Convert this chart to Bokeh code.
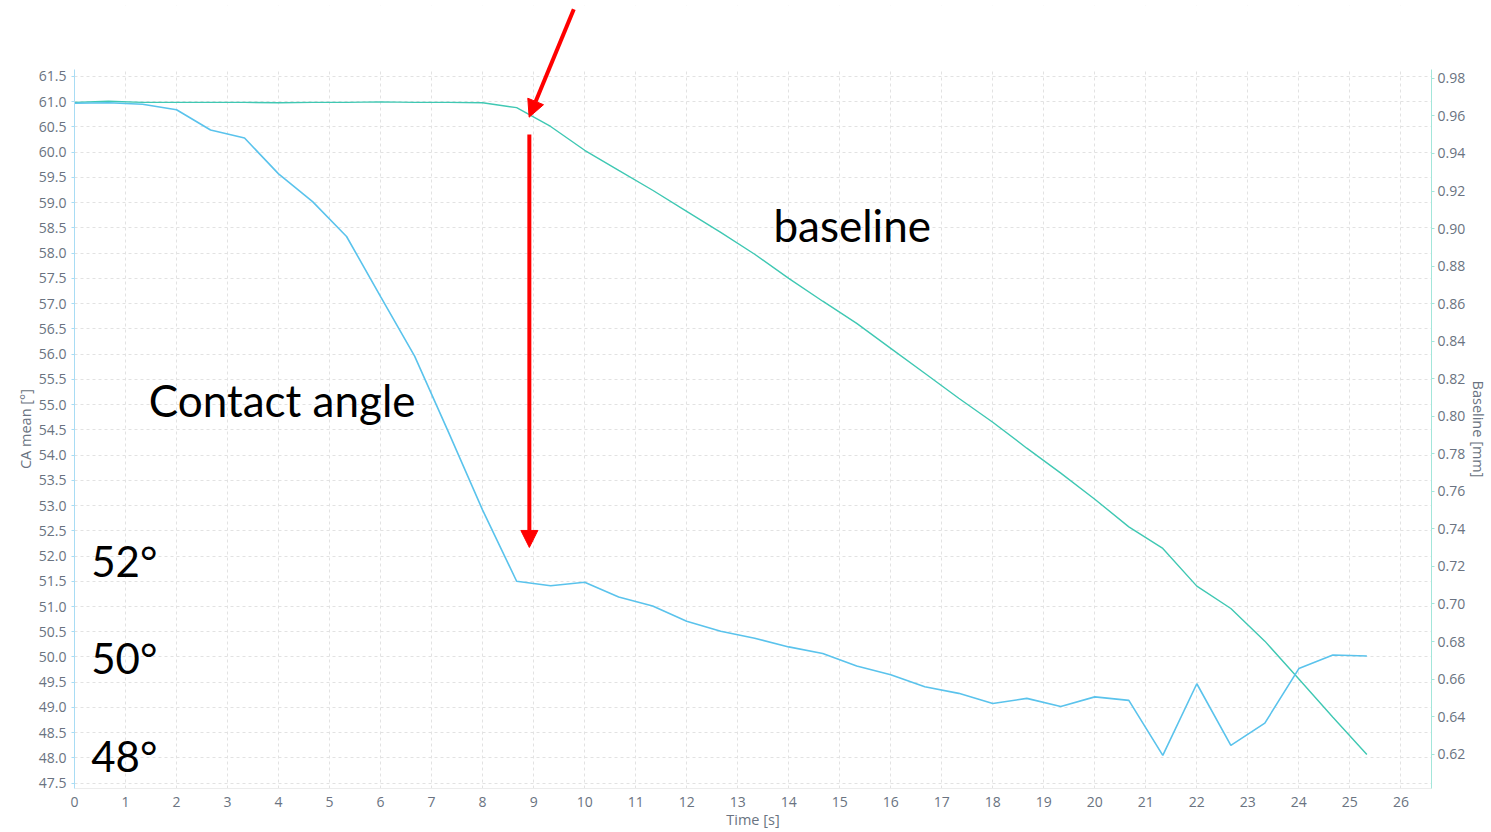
from bokeh.plotting import figure
from bokeh.models import (Range1d, LinearAxis, SingleIntervalTicker, NumeralTickFormatter,
                          Label, Arrow, NormalHead, BoxAnnotation)
from bokeh.embed import file_html
from bokeh.resources import INLINE

# ---- data ----
time_s = [0.0, 0.667, 1.333, 2.0, 2.667, 3.333, 4.0, 4.667, 5.333, 6.0, 6.667, 7.333,
          8.0, 8.667, 9.333, 10.0, 10.667, 11.333, 12.0, 12.667, 13.333, 14.0, 14.667,
          15.333, 16.0, 16.667, 17.333, 18.0, 18.667, 19.333, 20.0, 20.667, 21.333,
          22.0, 22.667, 23.333, 24.0, 24.667, 25.333]

ca_mean = [60.97, 60.98, 60.95, 60.84, 60.44, 60.28, 59.57, 59.02, 58.33, 57.14, 55.96, 54.45,
           52.91, 51.50, 51.41, 51.48, 51.19, 51.01, 50.71, 50.51, 50.37, 50.20, 50.07,
           49.82, 49.65, 49.41, 49.28, 49.08, 49.18, 49.02, 49.21, 49.14, 48.05,
           49.47, 48.25, 48.69, 49.77, 50.04, 50.02]

baseline_mm = [0.9672, 0.9678, 0.9672, 0.9672, 0.9672, 0.9672, 0.9670, 0.9672, 0.9672, 0.9675,
               0.9672, 0.9672, 0.9670, 0.9644, 0.9544, 0.9417, 0.9310, 0.9204, 0.9092, 0.8980,
               0.8863, 0.8735, 0.8613, 0.8495, 0.8362, 0.8229, 0.8096, 0.7968, 0.7830, 0.7697,
               0.7558, 0.7411, 0.7296, 0.7095, 0.6976, 0.6802, 0.6600, 0.6397, 0.6198]

annotations = ["baseline", "Contact angle", "52°", "50°", "48°"]

CA_COLOR = "#5ac3ec"
BL_COLOR = "#3fc8b3"
TICK_COLOR = "#6a7381"

CA_LO, CA_HI = 47.395, 61.633          # visible chart extent (left axis)
BL_LO, BL_HI = 0.6017, 0.9846          # visible chart extent (right axis)
TOP = 62.906                            # extra headroom for the red arrow
BL_TOP = BL_HI + (TOP - CA_HI) * (BL_HI - BL_LO) / (CA_HI - CA_LO)

# non-breaking padding keeps the axis titles centred on the visible chart, not the headroom
PAD = "\u00a0" * 17

p = figure(width=1491, height=832, output_backend="svg", toolbar_location=None,
           x_range=Range1d(0, 26.6), y_range=Range1d(CA_LO, TOP),
           min_border_left=74, min_border_right=58, min_border_top=5, min_border_bottom=44)
p.outline_line_color = None
p.background_fill_color = "white"
p.border_fill_color = "white"
p.extra_y_ranges = {"bl": Range1d(BL_LO, BL_TOP)}

xa = p.xaxis[0]
xa.ticker = SingleIntervalTicker(interval=1)
xa.axis_label = "Time [s]"
xa.axis_line_color = "#ececec"
xa.major_tick_line_color = None
xa.minor_tick_line_color = None
xa.major_label_standoff = 2
xa.axis_label_standoff = 0

ya = p.yaxis[0]
ya.ticker = SingleIntervalTicker(interval=0.5)
ya.formatter = NumeralTickFormatter(format="0.0")
ya.bounds = (CA_LO, CA_HI)
ya.axis_label = "CA mean [°]" + PAD
ya.axis_line_color = "#a8dcf4"
ya.major_tick_line_color = "#a8dcf4"
ya.major_tick_out = 3
ya.major_tick_in = 0
ya.minor_tick_line_color = None
ya.major_label_standoff = 4
ya.axis_label_standoff = 1

ra = LinearAxis(y_range_name="bl", ticker=SingleIntervalTicker(interval=0.02),
                formatter=NumeralTickFormatter(format="0.00"),
                axis_label=PAD + "Baseline [mm]", bounds=(BL_LO, BL_HI))
ra.axis_line_color = "#a3e6da"
ra.major_tick_line_color = "#a3e6da"
ra.major_tick_out = 3
ra.major_tick_in = 0
ra.minor_tick_line_color = None
ra.major_label_standoff = 2
ra.axis_label_standoff = 1
p.add_layout(ra, "right")

for ax in (xa, ya, ra):
    ax.major_label_text_font = "Open Sans"
    ax.major_label_text_font_size = "14px"
    ax.major_label_text_color = TICK_COLOR
    ax.axis_label_text_font = "Open Sans"
    ax.axis_label_text_font_size = "14.5px"
    ax.axis_label_text_font_style = "normal"
    ax.axis_label_text_color = TICK_COLOR

p.xgrid.grid_line_color = "#e2e2e2"
p.xgrid.grid_line_dash = "3 3"
p.ygrid.grid_line_color = "#e2e2e2"
p.ygrid.grid_line_dash = "3 3"

# hide grid in the headroom above the chart
p.add_layout(BoxAnnotation(bottom=CA_HI, fill_color="white", fill_alpha=1.0,
                           line_color=None, level="glyph"))

p.line(time_s, baseline_mm, y_range_name="bl", line_color=BL_COLOR, line_width=1.4)
p.line(time_s, ca_mean, line_color=CA_COLOR, line_width=1.6)

ann_x = [13.70, 1.456, 0.327, 0.327, 0.327]
ann_y = [58.55, 55.084, 51.896, 49.98, 48.035]
ann_size = ["44px", "44px", "42px", "42px", "42px"]
for t, xx, yy, sz in zip(annotations, ann_x, ann_y, ann_size):
    p.add_layout(Label(x=xx, y=yy, text=t, text_font="Lato", text_font_size=sz,
                       text_color="black", text_baseline="alphabetic", text_align="left"))

# red arrows
p.add_layout(Arrow(x_start=9.787, y_start=62.83, x_end=8.912, y_end=60.694,
                   line_color="red", line_width=4,
                   end=NormalHead(size=17, fill_color="red", line_color="red")))
p.add_layout(Arrow(x_start=8.916, y_start=60.35, x_end=8.916, y_end=52.17,
                   line_color="red", line_width=4,
                   end=NormalHead(size=17, fill_color="red", line_color="red")))

open("out.html", "w").write(file_html(p, INLINE))
